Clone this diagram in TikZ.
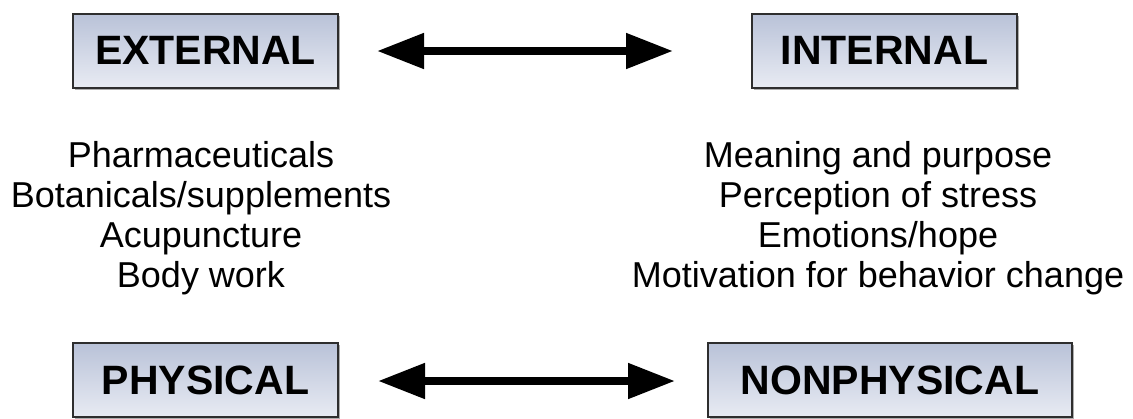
\documentclass[tikz,border=0pt]{standalone}
\usepackage{fontspec}
\setmainfont{Liberation Sans}
\usetikzlibrary{arrows.meta,shadows}
\definecolor{boxtop}{HTML}{B9C2D8}
\definecolor{boxbot}{HTML}{E8EBF3}
\definecolor{boxline}{HTML}{2E2E2E}
\tikzset{
  label box/.style={draw=boxline, line width=2pt, top color=boxtop, bottom color=boxbot,
    minimum height=74pt, inner sep=0pt, font=\fontsize{41}{41}\selectfont\bfseries,
    drop shadow={shadow xshift=2pt, shadow yshift=-2pt, opacity=0.45, fill=black!70}},
  item list/.style={align=center, font=\fontsize{36}{40}\selectfont, inner sep=0pt},
  both ways/.style={line width=8pt, {Triangle[length=47pt,width=34pt]}-{Triangle[length=47pt,width=34pt]}}
}
\begin{document}
\begin{tikzpicture}[x=1pt,y=-1pt]
  \useasboundingbox (0,0) rectangle (1133,418);
  % the four category boxes
  \node[label box, minimum width=265pt] (ext)  at (205.5,50.5) {EXTERNAL};
  \node[label box, minimum width=265pt] (int)  at (884.5,50.5) {INTERNAL};
  \node[label box, minimum width=265pt] (phys) at (205.5,380) {PHYSICAL};
  \node[label box, minimum width=364pt] (nonp) at (890,380) {NONPHYSICAL};
  % endpoints of the double arrows
  \coordinate (a1) at (377,51);
  \coordinate (a2) at (673,51);
  \coordinate (b1) at (378,381);
  \coordinate (b2) at (675,381);
  \draw[both ways] (a1) -- (a2);
  \draw[both ways] (b1) -- (b2);
  % examples of each kind
  \node[item list, anchor=north] (extlist) at (201,141)
    {Pharmaceuticals\\Botanicals/supplements\\Acupuncture\\Body work};
  \node[item list, anchor=north] (intlist) at (878,141)
    {Meaning and purpose\\Perception of stress\\Emotions/hope\\Motivation for behavior change};
\end{tikzpicture}
\end{document}
